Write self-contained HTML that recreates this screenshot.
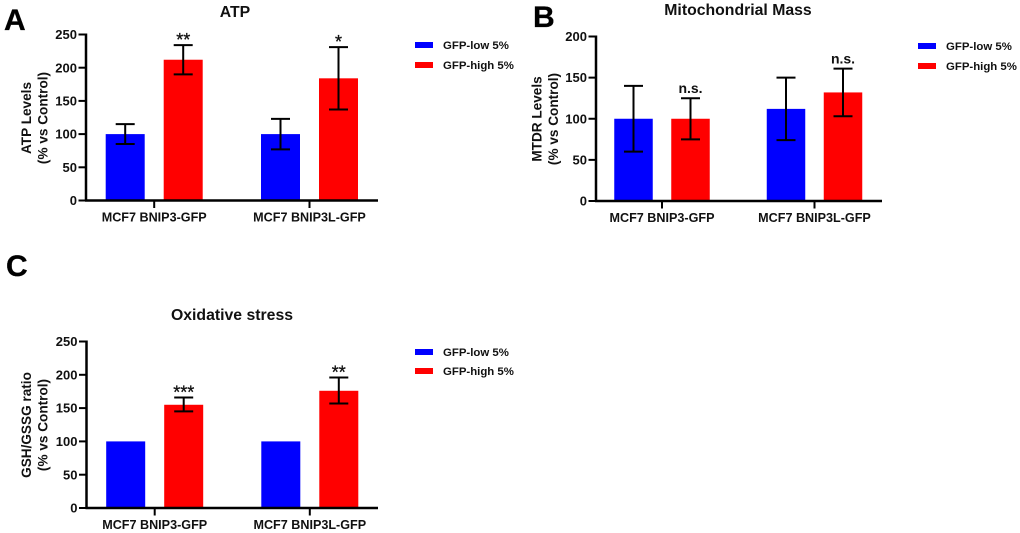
<!DOCTYPE html>
<html lang="en">
<head>
<meta charset="utf-8">
<title>ATP, Mitochondrial Mass and Oxidative Stress</title>
<style>
html,body{margin:0;padding:0;background:#fff;}
svg{display:block;font-family:"Liberation Sans",Arial,sans-serif;font-weight:bold;fill:#000;}
</style>
</head>
<body>
<svg id="figure" width="1020" height="533" viewBox="0 0 1020 533" xmlns="http://www.w3.org/2000/svg"></svg>
<script>
const categories = ['MCF7 BNIP3-GFP', 'MCF7 BNIP3L-GFP'];
const seriesNames = ['GFP-low 5%', 'GFP-high 5%'];
const seriesColors = ['#0000ff', '#ff0000'];

const atpTicks = [0, 50, 100, 150, 200, 250];
const atpLow = [100, 100];
const atpHigh = [212, 184];
const atpLowUpper = [115, 123];
const atpLowLower = [85, 77];
const atpHighUpper = [234, 231];
const atpHighLower = [190, 137];
const atpSignificance = ['**', '*'];

const mitoTicks = [0, 50, 100, 150, 200];
const mitoLow = [100, 112];
const mitoHigh = [100, 132];
const mitoLowUpper = [140, 150];
const mitoLowLower = [60, 74];
const mitoHighUpper = [125, 161];
const mitoHighLower = [75, 103];
const mitoSignificance = ['n.s.', 'n.s.'];

const oxTicks = [0, 50, 100, 150, 200, 250];
const oxLow = [100, 100];
const oxHigh = [155, 176];
const oxLowUpper = [null, null];
const oxLowLower = [null, null];
const oxHighUpper = [166, 196];
const oxHighLower = [145, 157];
const oxSignificance = ['***', '**'];

const svg = document.getElementById('figure');
const NS = 'http://www.w3.org/2000/svg';

function add(parent, tag, attrs, text) {
  const el = document.createElementNS(NS, tag);
  for (const k in attrs) el.setAttribute(k, attrs[k]);
  if (text !== undefined) el.textContent = text;
  parent.appendChild(el);
  return el;
}

function drawPanel(p) {
  const g = add(svg, 'g', {});
  
  

  const yMax = p.ticks[p.ticks.length - 1];
  const yScale = v => p.y0 - (v / yMax) * (p.y0 - p.yTop);
  const groupScale = i => p.centers[i];
  const barX = (i, s) => groupScale(i) + (s === 0 ? -p.offset : p.offset) - p.barW / 2;

  const letter = add(g, 'text', {x: p.letterX, y: p.letterY, 'font-size': 30, 'stroke': '#000', 'stroke-width': 0.3}, p.letter);
  
  

  const title = add(g, 'text', {x: p.titleX, y: p.titleY, 'font-size': 15.8, 'text-anchor': 'middle', fill: '#111'}, p.title);
  
  

  const y1 = add(g, 'text', {transform: `translate(${p.labelX},${p.labelY}) rotate(-90)`, 'font-size': 13.6, 'text-anchor': 'middle', fill: '#111'}, p.yLabel);
  
  
  const y2 = add(g, 'text', {transform: `translate(${p.labelX + 16.5},${p.labelY}) rotate(-90)`, 'font-size': 13.6, 'text-anchor': 'middle', fill: '#111'}, '(% vs Control)');
  
  

  categories.forEach((c, i) => {
    [p.low, p.high].forEach((vals, s) => {
      const top = yScale(vals[i]);
      const bar = add(g, 'rect', {x: barX(i, s), y: top, width: p.barW, height: p.y0 - top, fill: seriesColors[s]});
      
      
    });
  });

  const uppers = [p.lowUpper, p.highUpper];
  const lowers = [p.lowLower, p.highLower];
  categories.forEach((c, i) => {
    [0, 1].forEach(s => {
      if (uppers[s][i] === null) return;
      const cx = barX(i, s) + p.barW / 2;
      const yu = yScale(uppers[s][i]);
      const yl = yScale(lowers[s][i]);
      const err = add(g, 'path', {d: `M${cx - 9.5} ${yu}H${cx + 9.5}M${cx} ${yu}V${yl}M${cx - 9.5} ${yl}H${cx + 9.5}`, fill: 'none', stroke: '#000', 'stroke-width': 2});
      
      
    });
    const cx = barX(i, 1) + p.barW / 2;
    const isNs = p.sig[i] === 'n.s.';
    const sig = add(g, 'text', {x: cx, y: yScale(p.highUpper[i]) + (isNs ? -5 : 1), 'font-size': isNs ? 14 : 18, 'font-weight': isNs ? 'bold' : 'normal', 'stroke': isNs ? 'none' : '#111', 'stroke-width': isNs ? 0 : 0.3, 'text-anchor': 'middle', fill: '#111'}, p.sig[i]);
    
    
  });

  const axis = add(g, 'path', {d: `M${p.x0} ${p.yTop - 1}V${p.y0}M${p.x0 - 1} ${p.y0}H${p.xEnd}`, fill: 'none', stroke: '#000', 'stroke-width': 2.5});
  
  

  p.ticks.forEach(t => {
    const y = yScale(t);
    const tick = add(g, 'line', {x1: p.x0 - 7.5, x2: p.x0, y1: y, y2: y, stroke: '#000', 'stroke-width': 2});
    
    
    const lab = add(g, 'text', {x: p.x0 - 9, y: y + 4.6, 'font-size': 13, 'text-anchor': 'end', fill: '#111'}, t);
    
    
  });

  categories.forEach((c, i) => {
    const x = groupScale(i);
    const tick = add(g, 'line', {x1: x, x2: x, y1: p.y0, y2: p.y0 + 7.5, stroke: '#000', 'stroke-width': 2});
    
    
    const lab = add(g, 'text', {x: x, y: p.y0 + 21, 'font-size': 12.6, 'text-anchor': 'middle', fill: '#111'}, c);
    
    
  });

  seriesNames.forEach((n, s) => {
    const ly = p.legendY[s];
    const sw = add(g, 'rect', {x: p.legendX, y: ly - 3, width: 18, height: 6, fill: seriesColors[s]});
    
    
    const lt = add(g, 'text', {x: p.legendX + 28, y: ly + 4, 'font-size': 11.4, fill: '#111'}, n);
    
    
  });
}

drawPanel({
  id: 'atp', letter: 'A', letterX: 4, letterY: 30, title: 'ATP', titleX: 235, titleY: 17,
  yLabel: 'ATP Levels', labelX: 31, labelY: 118,
  ticks: atpTicks, low: atpLow, high: atpHigh,
  lowUpper: atpLowUpper, lowLower: atpLowLower, highUpper: atpHighUpper, highLower: atpHighLower, sig: atpSignificance,
  x0: 86, xEnd: 378, y0: 200.5, yTop: 34.5, centers: [154.2, 309.5], offset: 29, barW: 39,
  legendX: 415, legendY: [45, 65]
});
drawPanel({
  id: 'mitochondrial-mass', letter: 'B', letterX: 533, letterY: 27, title: 'Mitochondrial Mass', titleX: 738, titleY: 15,
  yLabel: 'MTDR Levels', labelX: 541.5, labelY: 119,
  ticks: mitoTicks, low: mitoLow, high: mitoHigh,
  lowUpper: mitoLowUpper, lowLower: mitoLowLower, highUpper: mitoHighUpper, highLower: mitoHighLower, sig: mitoSignificance,
  x0: 596, xEnd: 882, y0: 201, yTop: 36.5, centers: [662, 814.5], offset: 28.5, barW: 38.5,
  legendX: 918, legendY: [46, 66]
});
drawPanel({
  id: 'oxidative-stress', letter: 'C', letterX: 6, letterY: 276, title: 'Oxidative stress', titleX: 232, titleY: 320,
  yLabel: 'GSH/GSSG ratio', labelX: 31, labelY: 425,
  ticks: oxTicks, low: oxLow, high: oxHigh,
  lowUpper: oxLowUpper, lowLower: oxLowLower, highUpper: oxHighUpper, highLower: oxHighLower, sig: oxSignificance,
  x0: 86.5, xEnd: 378, y0: 508, yTop: 341.5, centers: [154.7, 309.8], offset: 29, barW: 39,
  legendX: 415, legendY: [352, 371]
});
</script>
</body>
</html>
